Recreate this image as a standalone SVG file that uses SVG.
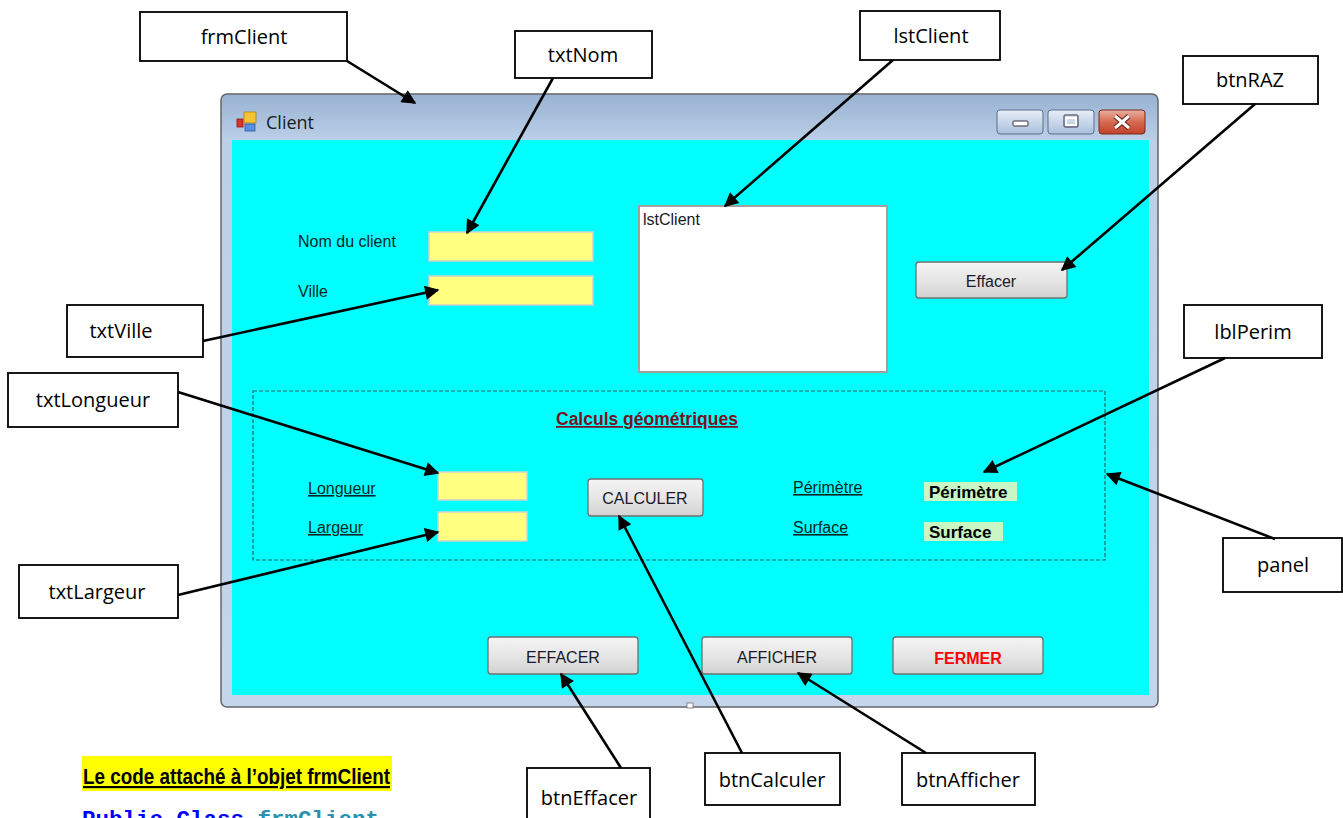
<svg xmlns="http://www.w3.org/2000/svg" width="1343" height="818" viewBox="0 0 1343 818">
<style>
.call rect{fill:#fff;stroke:#000;stroke-width:1.8}
.call text{font-family:"Open Sans","Noto Sans",sans-serif;font-size:20px;fill:#000;text-anchor:middle}
.lbl{font-family:"Liberation Sans",Arial,sans-serif;font-size:16px;fill:#0a2626}
.u{text-decoration:underline}
.tb{fill:#ffff80;stroke:#d0d0d0;stroke-width:1.5}
.btn rect{fill:url(#btnGrad);stroke:#707070;stroke-width:1.3}
.btn text{font-family:"Liberation Sans",Arial,sans-serif;font-size:16px;fill:#1a1a28;text-anchor:middle}
.valbox{fill:#c8f7c5}
.valtxt{font-family:"Liberation Sans",Arial,sans-serif;font-size:17px;font-weight:bold;fill:#000}
#connectors line{stroke:#000;stroke-width:2.6;marker-end:url(#arr)}
</style>
<defs>
<marker id="arr" viewBox="0 0 10 10" refX="9" refY="5" markerWidth="7" markerHeight="5.5" orient="auto" markerUnits="strokeWidth">
<path d="M0,0 L10,5 L0,10 z" fill="#000"/>
</marker>
<linearGradient id="frameGrad" gradientUnits="userSpaceOnUse" x1="0" y1="94" x2="0" y2="707">
<stop offset="0" stop-color="#98b2d2"/>
<stop offset="0.075" stop-color="#bbcfe7"/>
<stop offset="1" stop-color="#c4d6ec"/>
</linearGradient>
<linearGradient id="btnGrad" x1="0" y1="0" x2="0" y2="1">
<stop offset="0" stop-color="#f4f4f4"/>
<stop offset="0.5" stop-color="#e6e6e6"/>
<stop offset="1" stop-color="#d2d2d2"/>
</linearGradient>
<linearGradient id="ctlGrad" x1="0" y1="0" x2="0" y2="1">
<stop offset="0" stop-color="#e8eff8"/>
<stop offset="0.5" stop-color="#c9d7ea"/>
<stop offset="1" stop-color="#aabfdc"/>
</linearGradient>
<linearGradient id="closeGrad" x1="0" y1="0" x2="0" y2="1">
<stop offset="0" stop-color="#eab0a0"/>
<stop offset="0.5" stop-color="#d66a52"/>
<stop offset="1" stop-color="#c0402a"/>
</linearGradient>
</defs>
<rect width="1343" height="818" fill="#fff"/>

<g id="frmClient-window">
<rect x="221" y="94" width="937" height="613" rx="6" fill="url(#frameGrad)" stroke="#666" stroke-width="1.5"/>
<rect x="232" y="140" width="917" height="555" fill="#00ffff"/>
<rect x="687" y="703" width="6" height="5" fill="#fff" stroke="#888" stroke-width="1"/>
<g id="title-icon">
<rect x="237" y="119" width="6" height="8" fill="#d8322a" stroke="#8a1a10" stroke-width="0.8"/>
<rect x="244" y="112" width="12" height="11" fill="#f4c430" stroke="#b08010" stroke-width="0.8"/>
<rect x="245" y="124" width="10" height="7" fill="#5a8ee0" stroke="#2a5aa0" stroke-width="0.8"/>
</g>
<text x="266" y="129" font-family="Open Sans,Noto Sans,sans-serif" font-size="18" fill="#1a1a1a">Client</text>
<g id="win-min">
<rect x="997" y="110" width="46" height="24" rx="3" fill="url(#ctlGrad)" stroke="#5a6f8c"/>
<rect x="1013" y="121" width="15" height="5" rx="1" fill="#fff" stroke="#334" stroke-width="1"/>
</g>
<g id="win-max">
<rect x="1048" y="110" width="46" height="24" rx="3" fill="url(#ctlGrad)" stroke="#5a6f8c"/>
<rect x="1064" y="115" width="14" height="12" rx="1" fill="none" stroke="#334" stroke-width="1"/>
<rect x="1066" y="118" width="10" height="7" fill="none" stroke="#fff" stroke-width="2"/>
</g>
<g id="win-close">
<rect x="1099" y="110" width="46" height="24" rx="3" fill="url(#closeGrad)" stroke="#7a2a1e"/>
<path d="M1115,116 L1129,128 M1129,116 L1115,128" stroke="#6a1c10" stroke-width="5"/>
<path d="M1115,116 L1129,128 M1129,116 L1115,128" stroke="#fff" stroke-width="3"/>
</g>

<g id="txtNom-field">
<text class="lbl" x="298" y="247">Nom du client</text>
<rect class="tb" x="429" y="232" width="164" height="29"/>
</g>
<g id="txtVille-field">
<text class="lbl" x="298" y="297">Ville</text>
<rect class="tb" x="429" y="276" width="164" height="29"/>
</g>
<g id="lstClient-list">
<rect x="639" y="206" width="248" height="166" fill="#fff" stroke="#a0a0a0" stroke-width="2"/>
<text class="lbl" x="643" y="225" style="fill:#1a1a28">lstClient</text>
</g>
<g id="btnRAZ-button" class="btn">
<rect x="916" y="262" width="151" height="36" rx="3"/>
<text x="991" y="287">Effacer</text>
</g>

<g id="panel-box">
<rect x="253" y="391" width="852" height="169" fill="none" stroke="#2a6666" stroke-width="1.2" stroke-dasharray="4 2"/>
<text x="556" y="425" class="u" font-family="Liberation Sans,Arial,sans-serif" font-size="17.5" font-weight="bold" fill="#7a1020">Calculs géométriques</text>
</g>
<g id="txtLongueur-field">
<text class="lbl u" x="308" y="494">Longueur</text>
<rect class="tb" x="438" y="472" width="89" height="28"/>
</g>
<g id="txtLargeur-field">
<text class="lbl u" x="308" y="533">Largeur</text>
<rect class="tb" x="438" y="512" width="89" height="29"/>
</g>
<g id="btnCalculer-button" class="btn">
<rect x="588" y="479" width="115" height="37" rx="3"/>
<text x="645" y="504">CALCULER</text>
</g>
<g id="lblPerim-field">
<text class="lbl u" x="793" y="493">Périmètre</text>
<rect class="valbox" x="924" y="482" width="93" height="19"/>
<text class="valtxt" x="929" y="498">Périmètre</text>
</g>
<g id="lblSurface-field">
<text class="lbl u" x="793" y="533">Surface</text>
<rect class="valbox" x="924" y="522" width="79" height="19"/>
<text class="valtxt" x="929" y="538">Surface</text>
</g>

<g id="btnEffacer-button" class="btn">
<rect x="488" y="637" width="150" height="37" rx="3"/>
<text x="563" y="663">EFFACER</text>
</g>
<g id="btnAfficher-button" class="btn">
<rect x="702" y="637" width="150" height="37" rx="3"/>
<text x="777" y="663">AFFICHER</text>
</g>
<g id="btnFermer-button" class="btn">
<rect x="893" y="637" width="150" height="37" rx="3"/>
<text x="968" y="664" font-weight="bold" font-size="17" style="fill:#ff0000">FERMER</text>
</g>
</g>

<g id="callout-frmClient" class="call"><rect x="140" y="12" width="207" height="49"/><text x="244" y="44">frmClient</text></g>
<g id="callout-txtNom" class="call"><rect x="515" y="31" width="137" height="47"/><text x="583" y="62">txtNom</text></g>
<g id="callout-lstClient" class="call"><rect x="860" y="11" width="140" height="49"/><text x="931" y="43">lstClient</text></g>
<g id="callout-btnRAZ" class="call"><rect x="1183" y="56" width="135" height="48"/><text x="1250" y="87">btnRAZ</text></g>
<g id="callout-txtVille" class="call"><rect x="67" y="305" width="136" height="52"/><text x="121" y="338">txtVille</text></g>
<g id="callout-txtLongueur" class="call"><rect x="8" y="373" width="170" height="54"/><text x="93" y="407">txtLongueur</text></g>
<g id="callout-txtLargeur" class="call"><rect x="19" y="565" width="159" height="53"/><text x="97" y="599">txtLargeur</text></g>
<g id="callout-lblPerim" class="call"><rect x="1184" y="305" width="138" height="53"/><text x="1253" y="339">lblPerim</text></g>
<g id="callout-panel" class="call"><rect x="1223" y="538" width="119" height="54"/><text x="1283" y="572">panel</text></g>
<g id="callout-btnEffacer" class="call"><rect x="527" y="768" width="123" height="60"/><text x="589" y="805">btnEffacer</text></g>
<g id="callout-btnCalculer" class="call"><rect x="705" y="753" width="135" height="52"/><text x="772" y="787">btnCalculer</text></g>
<g id="callout-btnAfficher" class="call"><rect x="902" y="753" width="133" height="52"/><text x="968" y="787">btnAfficher</text></g>

<g id="connectors">
<line x1="347" y1="61" x2="415" y2="103"/>
<line x1="553" y1="78" x2="467" y2="233"/>
<line x1="893" y1="60" x2="725" y2="206"/>
<line x1="1255" y1="104" x2="1062" y2="270"/>
<line x1="203" y1="341" x2="438" y2="290"/>
<line x1="178" y1="392" x2="438" y2="473"/>
<line x1="178" y1="595" x2="438" y2="532"/>
<line x1="1225" y1="358" x2="984" y2="472"/>
<line x1="1275" y1="539" x2="1107" y2="474"/>
<line x1="742" y1="753" x2="619" y2="516"/>
<line x1="926" y1="753" x2="798" y2="673"/>
<line x1="621" y1="768" x2="561" y2="674"/>
</g>

<g id="code-heading">
<rect x="82" y="756" width="310" height="35" fill="#ffff00"/>
<text x="83" y="784" class="u" font-family="Liberation Sans,Arial,sans-serif" font-size="22" font-weight="bold" fill="#000" textLength="307" lengthAdjust="spacingAndGlyphs">Le code attaché à l’objet frmClient</text>
</g>
<text x="82" y="826" font-family="Liberation Mono,DejaVu Sans Mono,monospace" font-size="22.5" font-weight="bold" fill="#0000ff">Public Class <tspan fill="#2b91af">frmClient</tspan></text>
</svg>
